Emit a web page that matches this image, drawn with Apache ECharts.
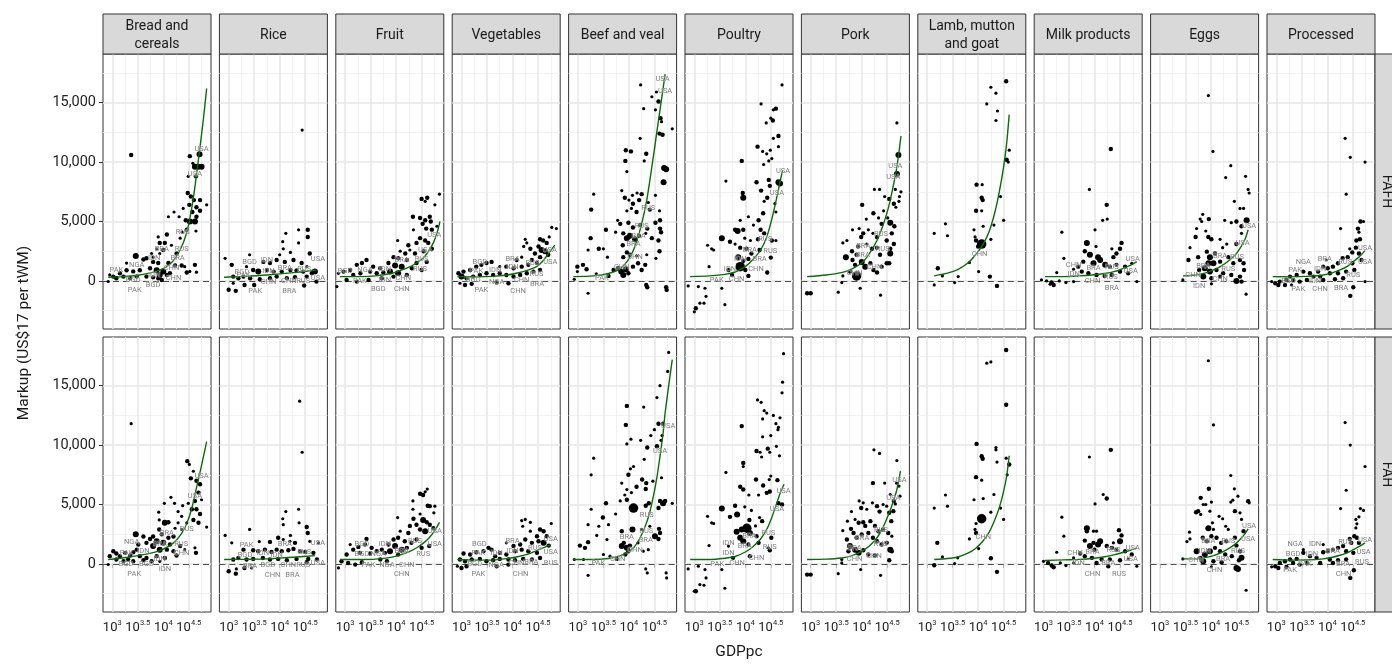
<!DOCTYPE html>
<html><head><meta charset="utf-8">
<script src="https://cdn.jsdelivr.net/npm/echarts@6.0.0/dist/echarts.min.js"></script>
<style>html,body{margin:0;padding:0;background:#fff}#c{width:1392px;height:664px}</style>
</head><body><div id="c"></div>
<script>
// ---- categories / ticks ----
const categories = ['Bread and\ncereals','Rice','Fruit','Vegetables','Beef and veal','Poultry','Pork','Lamb, mutton\nand goat','Milk products','Eggs','Processed'];
const rowNames = ['FAFH','FAH'];
const xTicks = [3, 3.5, 4, 4.5];
const yTicks = [0, 5000, 10000, 15000];
const xMajorGrid = [3, 3.5, 4, 4.5];
const xMinorGrid = [3.25, 3.75, 4.25, 4.75];
const yMajorGrid = [0, 5000, 10000, 15000];
const yMinorGrid = [-2500, 2500, 7500, 12500, 17500];

// ---- data: [log10 GDPpc, markup (thousand US$), size class] ----
const fafhBread = [[3.37,10.6,2],[4.71,10.67,3],[4.52,10.5,2],[4.58,9.9,1],[4.62,9.6,3],[4.68,9.6,3],[4.75,9.6,3],[4.49,8.8,1],[4.64,8.8,2],[4.48,7.4,2],[4.54,7.1,2],[4.60,6.8,2],[4.72,6.8,2],[4.51,6.4,2],[4.65,6.2,2],[4.85,6.4,1],[4.57,5.8,2],[4.72,5.9,2],[4.39,6.1,1],[4.21,5.8,1],[4.10,5.4,1],[4.31,5.4,1],[4.44,5.1,2],[4.52,5.0,3],[4.62,5.0,3],[4.65,5.4,2],[4.46,4.3,2],[4.64,4.2,1],[4.37,4.1,1],[3.90,3.7,1],[4.07,3.9,2],[4.03,3.2,2],[3.93,3.2,2],[4.16,3.0,1],[3.87,2.7,1],[4.0,2.6,2],[4.33,3.6,1],[4.26,2.3,2],[3.93,2.3,1],[3.80,2.0,1],[3.67,1.9,2],[3.46,2.1,3],[3.61,1.8,2],[3.80,1.6,2],[3.90,1.5,2],[4.10,1.5,2],[4.23,1.3,2],[4.36,1.3,2],[4.42,1.2,1],[4.62,1.35,2],[4.52,0.8,1],[4.46,0.7,2],[4.65,0.73,1],[3.74,1.06,2],[3.87,0.9,3],[4.0,0.8,3],[3.93,0.5,3],[4.07,0.5,2],[4.13,0.64,2],[3.54,0.9,2],[3.41,0.8,2],[3.28,0.9,2],[3.15,0.64,2],[3.02,0.36,2],[2.95,0.5,1],[2.92,-0.05,1],[3.08,0.22,2],[3.22,0.36,2],[3.35,0.22,2],[3.48,0.36,2],[3.67,0.36,2],[3.80,0.3,2],[3.90,0.22,2],[3.97,0.08,2],[3.28,1.5,1],[3.77,2.3,1]];
const fafhRice = [[4.44,12.7,1],[4.12,4.0,1],[4.37,4.3,1],[4.55,4.3,2],[4.55,3.7,2],[4.06,3.3,1],[4.07,2.7,1],[4.37,3.2,1],[4.59,2.3,2],[4.21,2.4,1],[3.41,2.2,1],[2.93,1.9,1],[3.06,1.35,2],[4.0,2.2,1],[3.68,1.6,2],[3.81,1.5,2],[3.94,1.76,2],[4.10,1.6,2],[4.27,1.76,2],[4.43,1.5,2],[4.53,1.2,1],[3.35,1.2,1],[3.48,0.92,2],[3.58,0.78,3],[3.75,0.92,2],[3.88,0.78,2],[4.04,0.78,2],[4.21,0.92,2],[4.33,0.87,2],[4.46,0.78,2],[4.63,0.64,2],[4.69,0.78,3],[3.09,0.36,2],[3.19,0.22,2],[3.29,0.36,2],[3.42,0.22,2],[3.61,0.14,2],[3.81,0.22,2],[3.94,0.36,2],[4.14,0.22,2],[4.30,0.31,2],[4.53,0.36,2],[3.0,-0.75,2],[3.14,-0.84,2],[3.31,-0.34,2],[3.5,-0.34,2],[3.09,-0.2,1],[4.48,-0.39,2],[4.72,-0.06,2]];
const fafhFruit = [[4.85,7.3,1],[4.5,6.9,2],[4.61,7.0,2],[4.57,6.7,1],[4.76,6.4,1],[4.33,5.4,2],[4.47,5.3,2],[4.57,5.1,2],[4.66,5.4,2],[4.68,5.0,2],[4.52,4.8,2],[4.59,4.4,2],[4.7,4.3,2],[4.8,4.6,1],[4.34,4.3,1],[4.03,3.4,1],[4.47,3.6,2],[4.57,3.4,2],[4.63,3.2,2],[4.4,3.2,2],[4.24,3.0,2],[4.27,2.6,1],[4.08,2.5,1],[4.18,2.3,2],[4.37,2.3,2],[4.54,2.5,2],[4.7,2.7,2],[3.95,2.0,2],[4.04,1.9,2],[4.21,1.76,2],[4.4,1.5,2],[4.6,1.6,2],[3.85,1.5,2],[3.98,1.3,3],[4.11,1.2,3],[4.31,1.06,2],[4.5,0.92,2],[3.88,0.78,3],[4.04,0.64,3],[4.21,0.5,2],[3.95,0.36,2],[3.42,1.76,2],[3.33,1.5,2],[3.23,1.35,2],[3.55,1.2,2],[3.69,1.06,2],[3.1,0.92,2],[2.97,0.78,2],[2.87,0.64,1],[3.16,0.5,2],[3.3,0.64,2],[3.49,0.78,2],[3.62,0.64,2],[3.75,0.7,2],[3.03,0.08,2],[3.23,-0.06,2],[2.84,-0.48,1],[3.46,0.08,2],[3.72,0.22,2]];
const fafhVeg = [[4.77,4.5,1],[4.86,4.4,1],[4.54,3.5,2],[4.6,3.4,2],[4.67,3.2,2],[4.72,3.7,1],[4.25,3.5,1],[4.28,3.2,1],[4.22,2.9,1],[4.35,2.7,2],[4.51,2.9,2],[4.57,2.6,3],[4.64,2.5,3],[4.7,2.2,2],[4.54,2.0,2],[4.44,2.3,2],[4.38,1.76,2],[4.18,2.0,1],[4.08,1.76,2],[4.48,1.5,2],[4.31,1.35,2],[4.18,1.2,2],[4.02,1.06,2],[3.88,1.2,2],[3.75,1.2,1],[3.59,1.6,2],[3.49,1.5,2],[3.39,1.35,2],[3.29,1.2,2],[3.17,0.92,2],[3.04,0.78,2],[2.94,0.64,2],[3.0,0.36,3],[3.1,0.22,2],[3.23,0.36,2],[3.36,0.5,2],[3.49,0.64,2],[3.62,0.5,2],[3.75,0.64,2],[3.88,0.5,2],[4.02,0.36,2],[4.15,0.5,2],[4.28,0.64,2],[4.41,0.78,2],[4.54,0.92,2],[2.97,-0.2,1],[3.07,-0.34,2],[3.2,-0.25,2],[3.69,-0.14,2],[3.92,-0.2,2]];
const fafhBeef = [[4.23,16.5,1],[4.54,15.9,1],[4.58,15.1,2],[4.45,15.5,1],[4.29,14.5,1],[4.52,14.4,1],[4.85,12.8,1],[4.62,13.7,2],[4.64,13.4,1],[4.6,12.4,2],[4.66,12.3,2],[4.22,12.0,1],[3.94,11.0,2],[4.04,10.9,2],[4.34,10.7,2],[4.3,10.1,1],[3.93,10.1,2],[3.96,9.2,1],[4.69,9.5,3],[4.73,9.4,3],[4.68,8.3,3],[3.31,7.3,1],[3.86,7.6,1],[3.92,7.0,2],[4.07,7.2,1],[4.16,7.4,1],[4.25,7.3,2],[4.0,6.8,1],[4.08,6.5,2],[4.2,6.8,2],[4.38,6.6,1],[4.52,7.2,1],[3.26,6.0,2],[3.96,5.9,1],[4.05,6.1,1],[4.15,5.8,2],[4.41,6.0,2],[4.6,5.9,1],[3.78,5.1,1],[3.83,4.8,2],[3.99,4.9,2],[4.08,4.5,2],[4.22,4.7,2],[4.36,4.4,2],[4.52,4.9,2],[4.61,5.1,2],[4.61,4.4,2],[3.55,4.3,2],[3.74,4.1,1],[3.89,4.0,2],[3.96,3.6,3],[4.02,3.8,3],[4.12,3.5,3],[4.2,3.8,2],[4.33,4.0,1],[4.45,3.6,2],[4.58,3.4,2],[4.63,4.1,2],[3.25,3.6,2],[3.41,2.7,2],[3.2,2.6,1],[3.5,2.7,1],[3.58,2.0,1],[3.88,3.0,2],[3.96,2.4,2],[3.89,2.0,2],[4.02,2.2,2],[4.15,2.1,1],[4.35,2.2,1],[4.6,2.5,2],[4.53,1.9,1],[2.99,1.2,2],[3.1,1.35,2],[3.17,0.98,2],[2.99,0.78,1],[2.93,0.14,1],[3.36,0.6,1],[3.6,0.42,2],[3.7,0.92,2],[3.79,1.06,2],[3.85,0.78,3],[3.94,0.98,3],[3.89,0.5,3],[3.99,0.64,2],[4.08,1.2,2],[4.18,1.48,2],[4.25,0.92,2],[4.32,1.35,2],[4.34,-0.34,2],[4.36,-0.53,2],[4.73,-0.53,2],[4.74,-0.76,2],[3.2,-1.04,1]];
const fafhPoultry = [[4.72,16.5,1],[4.31,14.9,1],[4.6,14.5,2],[4.55,14.4,1],[4.41,13.3,1],[4.5,13.7,1],[4.54,13.5,2],[4.65,12.2,2],[4.55,12.0,1],[4.24,11.3,2],[4.34,10.9,1],[4.49,11.0,1],[4.42,10.7,1],[4.52,10.3,1],[4.46,10.1,1],[4.36,9.8,1],[4.65,11.3,1],[3.93,10.1,2],[3.62,8.4,1],[4.46,8.5,2],[4.22,8.3,2],[4.65,8.3,3],[4.68,8.2,3],[3.95,7.4,2],[3.96,7.0,3],[4.31,7.6,2],[4.48,8.0,2],[4.43,7.0,2],[4.37,6.7,1],[4.58,6.5,1],[4.35,5.7,2],[4.6,5.8,1],[3.9,5.1,1],[4.06,5.4,1],[4.26,5.1,2],[3.8,4.3,2],[3.85,4.2,3],[3.96,4.3,2],[4.16,4.7,1],[4.3,4.3,2],[4.37,4.0,2],[3.54,3.6,3],[3.7,3.3,2],[3.8,3.1,1],[3.99,3.6,1],[4.1,3.4,1],[4.25,3.5,2],[4.52,3.4,2],[4.6,3.4,1],[3.26,3.0,1],[3.38,2.6,1],[3.34,2.7,1],[3.9,2.8,2],[4.02,2.7,2],[4.12,2.3,2],[4.28,2.6,2],[3.86,2.0,3],[3.96,1.7,2],[4.06,1.85,2],[4.5,1.96,2],[3.9,1.2,4],[4.0,0.92,2],[4.06,0.42,2],[4.43,0.7,2],[3.29,1.2,1],[3.67,0.92,2],[3.74,0.5,2],[2.88,-0.42,1],[3.08,-0.48,1],[3.21,-0.62,1],[3.23,-1.3,1],[3.11,-1.88,1],[3.03,-2.3,2],[3.0,-2.6,1],[3.54,-0.62,1],[3.6,-2.0,1],[3.19,-1.88,1]];
const fafhPork = [[4.69,13.3,1],[4.72,10.6,3],[4.69,9.0,3],[4.25,7.7,1],[4.35,7.7,1],[4.45,7.1,1],[4.54,6.9,2],[4.66,7.7,1],[4.77,7.5,1],[4.74,7.1,1],[4.73,6.7,1],[4.63,6.5,2],[4.67,6.2,1],[4.01,6.4,2],[4.23,5.7,2],[4.43,5.9,1],[4.33,5.3,1],[4.51,5.3,1],[4.09,5.2,1],[4.56,4.9,3],[4.64,4.6,2],[4.59,4.0,2],[4.39,4.8,2],[3.82,4.3,1],[3.95,4.4,1],[4.03,4.0,2],[4.13,4.3,1],[4.22,4.0,1],[4.3,3.7,2],[4.49,3.4,2],[4.63,3.1,2],[4.56,2.7,2],[3.63,3.2,1],[3.71,3.4,1],[3.81,2.5,2],[3.93,2.9,2],[3.99,3.7,2],[4.1,3.1,1],[4.2,2.7,2],[4.3,2.8,2],[4.36,2.2,2],[4.56,2.3,3],[4.49,1.48,2],[4.54,1.48,2],[3.69,2.0,3],[3.82,1.76,2],[3.9,2.2,2],[3.87,1.35,2],[4.0,1.6,3],[4.07,1.2,3],[4.17,1.48,2],[4.23,0.92,2],[4.3,0.7,2],[4.39,1.2,2],[3.77,0.78,2],[3.9,0.42,4],[3.63,0.42,1],[3.61,-0.14,1],[3.97,-0.62,1],[3.54,-0.95,1],[4.37,-1.2,1],[2.93,-1.04,2],[3.0,-1.04,2]];
const fafhLamb = [[4.55,16.8,2],[4.25,16.3,1],[4.35,15.8,1],[4.17,14.9,1],[4.38,14.3,1],[4.35,13.5,1],[4.61,11.0,1],[4.56,10.2,2],[4.59,10.0,1],[3.97,8.1,2],[4.08,8.1,1],[4.07,7.0,2],[4.09,6.8,2],[4.44,7.1,1],[3.96,5.9,2],[4.07,5.9,1],[4.5,5.1,1],[3.14,4.0,1],[3.36,4.8,1],[3.4,3.8,1],[4.1,4.6,1],[3.92,4.3,1],[4.31,4.7,1],[3.94,3.7,1],[3.96,3.4,2],[4.07,3.1,4],[4.0,2.9,2],[4.25,3.5,1],[3.83,1.54,1],[4.01,0.78,1],[3.21,1.06,2],[3.3,0.42,1],[3.61,0.36,1],[4.23,0.36,2],[3.14,-0.34,1],[3.54,-0.14,1],[4.37,-0.42,2]];
const fafhMilk = [[4.32,11.1,2],[3.9,7.7,1],[4.24,6.4,2],[4.16,5.1,1],[4.25,5.2,1],[4.01,4.3,1],[3.36,4.1,1],[3.85,3.2,3],[4.03,2.9,1],[3.4,1.9,1],[4.53,3.2,2],[4.34,2.7,1],[4.43,2.3,2],[4.5,2.7,2],[4.37,2.0,2],[3.81,2.5,2],[3.91,2.2,3],[4.07,2.0,3],[4.11,1.76,3],[3.98,1.48,3],[3.78,1.62,2],[3.68,1.2,2],[4.21,1.35,3],[4.3,1.2,2],[4.43,1.35,2],[4.6,1.2,2],[4.73,1.48,1],[4.5,0.78,2],[4.66,0.64,2],[3.26,0.7,1],[3.59,0.98,1],[3.75,0.78,2],[3.88,0.64,2],[4.04,0.5,2],[4.2,0.42,2],[4.34,0.5,2],[4.83,-0.06,1],[2.96,0.08,1],[3.06,0.0,1],[3.16,-0.14,2],[3.2,-0.34,2],[3.13,-0.28,1],[3.31,0.0,1],[3.44,-0.14,1],[3.59,-0.06,1]];
const fafhEggs = [[3.95,15.6,1],[4.04,10.9,1],[4.39,9.7,1],[4.29,8.7,1],[4.68,8.8,1],[4.73,7.7,1],[4.75,7.4,1],[4.46,6.7,1],[4.57,6.1,1],[4.64,6.1,1],[3.84,5.6,1],[3.79,5.2,1],[3.96,5.2,2],[3.82,5.0,1],[3.72,4.4,1],[3.9,4.2,1],[4.27,5.1,1],[4.4,4.9,1],[4.5,5.0,2],[4.7,5.1,3],[4.6,4.6,2],[3.7,3.7,2],[3.95,3.7,2],[4.01,3.5,2],[3.59,2.8,1],[4.18,3.5,1],[4.31,3.1,1],[4.23,2.8,1],[4.5,3.1,2],[4.6,4.0,1],[3.56,1.76,2],[3.75,2.0,2],[3.92,2.46,2],[3.98,2.0,3],[4.08,2.3,2],[3.95,1.48,3],[4.05,1.48,3],[4.18,1.62,2],[4.34,2.0,2],[4.44,1.48,2],[4.57,1.76,2],[4.64,1.48,2],[4.65,0.92,2],[3.77,0.92,2],[3.88,1.06,3],[3.98,0.78,3],[4.11,0.92,2],[4.24,0.64,2],[4.4,0.5,2],[4.57,0.36,2],[3.85,0.36,3],[4.01,0.22,2],[4.18,0.36,2],[4.5,0.0,3],[4.6,-0.06,2],[4.01,-0.25,1],[4.69,-1.12,1],[3.45,0.08,1]];
const fafhProc = [[4.35,12.0,1],[4.45,10.4,1],[4.74,10.0,1],[4.37,7.3,1],[4.26,4.4,1],[4.65,5.0,2],[4.71,5.0,1],[4.6,4.4,2],[4.62,4.1,1],[4.64,3.5,2],[4.57,3.4,2],[4.44,2.7,1],[4.56,2.8,2],[4.49,2.4,2],[4.62,2.3,2],[4.4,2.0,2],[4.3,1.9,2],[4.21,1.48,2],[4.49,1.48,2],[4.67,1.76,2],[4.11,1.2,2],[4.01,1.06,2],[3.92,1.2,2],[3.82,0.78,2],[4.05,0.64,2],[4.21,0.64,2],[4.37,0.78,2],[4.53,0.92,2],[3.98,1.76,1],[3.92,0.08,2],[4.15,0.14,2],[4.31,0.22,2],[4.51,-0.53,2],[4.45,-1.26,2],[4.74,-0.06,1],[3.53,0.78,2],[3.66,0.64,2],[3.73,0.36,2],[3.86,0.36,2],[3.4,0.5,2],[3.27,0.36,2],[3.33,0.08,2],[3.2,0.08,2],[3.07,-0.06,2],[2.98,-0.2,2],[2.91,-0.06,1],[3.04,-0.34,2],[3.17,-0.34,2],[3.46,-0.06,2],[3.6,0.08,2],[3.3,-0.34,1]];

const fahBread = [[3.37,11.8,1],[4.47,8.65,2],[4.51,8.37,1],[4.59,7.8,1],[4.54,7.2,2],[4.65,7.0,2],[4.72,6.7,2],[4.69,6.0,2],[4.75,5.4,1],[4.62,5.3,2],[4.49,5.1,1],[4.15,5.6,1],[4.02,5.1,1],[4.22,5.1,1],[4.29,4.4,1],[4.38,4.9,1],[3.91,4.35,1],[3.92,3.7,1],[4.03,3.46,3],[4.1,3.5,2],[4.36,4.0,1],[4.56,4.6,2],[4.65,4.6,2],[4.72,4.2,2],[4.59,3.7,2],[4.69,3.46,2],[4.85,3.1,1],[4.46,3.46,1],[3.92,2.9,2],[4.23,3.0,1],[4.29,3.46,1],[4.36,2.9,1],[3.8,2.3,2],[3.97,2.5,2],[4.1,2.2,2],[4.2,2.3,2],[3.87,1.9,3],[4.0,1.77,3],[4.13,1.63,2],[4.33,1.5,2],[4.42,1.2,1],[4.64,0.93,2],[4.62,1.35,1],[3.46,2.5,3],[3.61,2.3,2],[3.74,2.1,2],[3.67,1.77,2],[3.51,1.63,2],[3.8,1.5,3],[3.93,1.2,3],[4.07,1.2,2],[4.2,1.07,2],[3.87,0.65,2],[4.03,0.5,2],[4.26,0.7,2],[3.93,0.22,1],[3.02,1.07,2],[3.08,0.87,2],[2.95,0.65,2],[3.15,0.65,2],[3.25,0.93,2],[3.35,0.7,2],[3.41,0.98,2],[3.54,0.65,2],[3.67,0.5,2],[3.08,0.37,2],[3.22,0.22,2],[3.31,0.37,2],[3.41,0.22,2],[3.61,0.31,2],[3.77,0.22,2],[2.92,-0.05,1],[3.48,1.2,2]];
const fahRice = [[4.39,13.7,1],[4.44,9.4,1],[4.37,4.6,1],[4.12,4.4,1],[4.38,3.46,1],[4.06,3.8,1],[4.07,3.3,1],[3.41,2.9,1],[2.93,2.4,1],[4.53,3.1,2],[4.55,2.6,2],[4.21,2.4,1],[3.06,1.77,1],[3.6,1.88,1],[3.81,1.85,2],[3.97,2.2,2],[4.07,2.05,1],[4.2,1.9,1],[4.3,1.77,2],[4.59,1.9,1],[4.76,1.77,1],[3.29,1.2,2],[3.48,1.15,2],[3.58,1.07,2],[3.71,1.2,2],[3.84,1.0,2],[3.94,1.2,2],[4.04,1.07,2],[4.17,1.15,2],[4.27,1.26,2],[4.4,1.07,2],[4.5,1.0,2],[4.66,0.93,2],[3.09,0.37,2],[3.19,0.5,2],[3.35,0.37,2],[3.48,0.42,2],[3.67,0.5,2],[3.81,0.37,2],[3.97,0.42,2],[4.14,0.31,2],[4.33,0.42,2],[4.56,0.42,2],[4.73,0.37,2],[3.0,-0.62,2],[3.14,-0.82,2],[3.15,-0.42,1],[3.31,-0.34,2],[3.45,-0.34,1],[4.53,0.14,2]];
const fahFruit = [[4.61,6.3,1],[4.47,5.9,2],[4.53,5.8,2],[4.57,6.07,1],[4.33,5.3,1],[4.62,4.9,2],[4.66,4.86,2],[4.76,4.86,1],[4.33,4.6,1],[4.47,4.2,1],[4.74,4.3,1],[4.03,3.9,1],[4.34,3.8,2],[4.53,3.7,3],[4.6,3.5,2],[4.66,3.3,2],[4.73,3.0,2],[4.27,3.2,2],[4.4,3.3,2],[4.47,2.9,2],[4.57,2.75,3],[4.24,2.6,2],[4.08,2.75,1],[3.95,2.05,2],[4.04,2.2,2],[4.17,1.9,2],[4.3,1.77,2],[4.4,2.05,2],[4.65,1.5,2],[4.5,1.35,2],[3.85,1.63,2],[3.98,1.5,3],[4.11,1.2,3],[4.21,1.35,2],[3.88,1.07,3],[4.04,0.79,2],[3.78,0.93,2],[3.42,2.1,2],[3.39,1.63,2],[3.26,1.43,2],[3.1,1.63,1],[3.16,1.2,2],[3.52,1.35,2],[3.62,1.07,2],[3.72,1.2,2],[3.03,0.79,2],[3.29,0.93,2],[3.49,0.87,2],[2.93,0.22,2],[3.06,0.08,2],[3.2,-0.06,2],[3.33,0.14,2],[2.87,-0.34,1],[3.69,0.37,2],[3.82,0.22,2]];
const fahVeg = [[4.18,3.65,1],[4.25,3.74,1],[4.2,3.17,1],[4.35,3.5,1],[4.76,3.4,1],[4.54,2.9,2],[4.61,2.75,2],[4.67,2.33,2],[4.48,2.33,2],[4.35,2.75,1],[4.25,2.05,2],[4.38,1.77,2],[4.51,1.9,2],[4.61,1.77,3],[4.71,1.54,2],[4.15,1.63,2],[4.02,1.5,2],[3.88,1.77,1],[4.05,1.07,2],[4.18,1.2,2],[4.31,1.07,2],[4.48,0.93,2],[3.53,1.35,2],[3.59,1.2,2],[3.43,1.07,2],[3.29,0.98,2],[3.17,0.79,2],[3.04,0.87,2],[3.75,0.93,2],[3.66,0.65,2],[3.88,0.79,2],[2.97,0.37,2],[3.07,0.22,2],[3.2,0.37,2],[3.36,0.42,2],[3.49,0.22,2],[3.62,0.31,2],[3.75,0.42,2],[3.92,0.37,2],[4.05,0.31,2],[4.21,0.42,2],[4.38,0.37,2],[4.54,0.5,2],[2.92,-0.2,1],[3.0,-0.34,2],[3.1,-0.2,2],[3.69,-0.2,2],[3.92,-0.06,2]];
const fahBeef = [[4.78,17.8,1],[4.76,16.2,1],[4.61,15.0,1],[4.55,14.0,1],[3.96,13.3,2],[4.29,13.2,1],[4.23,10.4,1],[4.36,9.8,2],[4.43,10.8,1],[4.55,9.9,2],[4.63,10.4,1],[4.65,10.8,1],[4.58,11.8,2],[4.5,11.3,1],[4.67,11.8,2],[3.94,11.7,2],[4.04,10.5,1],[3.96,10.1,1],[3.31,8.9,1],[3.26,7.5,1],[4.3,8.8,1],[4.09,8.2,1],[4.03,8.0,1],[3.99,7.5,2],[4.26,7.1,2],[4.34,6.8,2],[3.86,6.8,1],[4.15,6.5,2],[3.96,6.26,1],[4.05,6.0,1],[4.33,6.3,2],[4.64,7.25,1],[4.47,6.96,1],[3.92,5.8,1],[3.83,5.3,1],[3.96,5.4,2],[4.09,4.7,4],[4.33,4.9,2],[4.39,5.1,2],[4.61,5.3,2],[4.67,5.1,3],[4.71,5.3,2],[4.58,4.7,2],[4.85,5.1,1],[3.26,4.6,1],[3.55,5.1,2],[3.49,3.9,2],[3.74,4.2,1],[3.6,3.3,1],[3.2,3.3,1],[3.41,3.17,1],[3.86,2.75,2],[4.07,2.9,3],[4.25,2.9,1],[4.41,3.17,1],[4.59,2.95,2],[4.61,2.6,2],[4.51,2.33,3],[4.58,2.1,2],[3.37,2.4,1],[3.57,2.05,1],[3.2,1.83,2],[3.04,1.54,2],[3.14,1.35,2],[3.86,1.5,3],[3.96,1.35,3],[3.9,1.77,2],[4.02,1.54,2],[3.99,1.07,2],[4.18,1.77,1],[4.38,1.2,1],[4.28,1.07,1],[3.5,0.79,1],[3.63,0.65,1],[3.76,0.42,2],[3.93,0.79,2],[2.93,0.37,1],[3.11,0.37,1],[4.33,-0.42,1],[4.36,-0.76,1],[4.73,-0.76,1],[4.74,-1.18,1],[3.2,-0.96,1]];
const fahPoultry = [[4.75,17.7,1],[4.73,15.3,1],[4.72,14.4,1],[4.24,13.8,1],[4.31,13.6,1],[4.37,12.9,1],[4.42,12.7,1],[4.55,12.5,1],[4.34,12.2,1],[4.6,11.8,1],[4.65,11.5,1],[4.64,11.3,1],[4.68,12.3,1],[3.93,11.6,2],[4.34,10.7,1],[4.5,10.8,1],[3.96,8.5,2],[3.96,8.2,1],[3.62,7.7,1],[4.22,9.5,2],[4.29,9.4,1],[4.44,9.7,2],[4.48,9.4,1],[4.61,9.9,1],[4.32,9.0,1],[4.67,9.1,1],[4.5,7.4,1],[4.47,7.1,1],[4.63,7.05,2],[4.21,7.1,2],[4.35,6.6,2],[3.9,6.5,2],[3.96,6.26,2],[4.07,5.8,1],[4.42,5.98,2],[4.48,6.1,2],[4.26,5.8,1],[4.65,5.1,2],[4.72,5.0,2],[3.54,4.66,3],[3.8,4.9,2],[3.99,4.8,1],[3.84,4.16,3],[3.7,3.96,2],[4.12,4.5,1],[4.28,3.9,1],[4.33,3.6,2],[4.08,3.7,2],[3.26,4.0,1],[3.38,3.4,1],[3.34,3.46,1],[4.2,3.2,1],[3.83,2.7,3],[3.93,2.9,3],[4.03,3.0,4],[4.09,2.6,3],[3.9,2.2,3],[3.96,1.9,3],[4.06,1.63,2],[4.22,2.33,2],[4.26,1.77,2],[4.51,2.2,2],[4.48,1.15,2],[4.45,1.35,1],[3.67,1.5,1],[4.09,0.65,2],[3.76,0.51,2],[3.29,1.54,1],[2.88,-0.42,1],[3.08,-0.2,1],[3.21,-0.48,1],[3.23,-1.18,1],[3.11,-1.74,1],[3.03,-2.3,2],[3.0,-2.3,1],[3.54,-0.48,1],[3.6,-2.05,1],[3.19,-1.8,1]];
const fahPork = [[4.24,9.6,1],[4.35,9.3,1],[4.69,8.7,1],[4.22,6.8,2],[4.45,6.8,1],[4.68,6.8,1],[4.73,6.55,1],[4.75,5.7,1],[4.56,5.84,1],[4.63,5.3,2],[4.66,5.05,1],[3.8,4.4,1],[3.95,5.3,1],[4.03,5.14,1],[3.99,4.7,2],[4.1,4.6,1],[4.21,5.14,1],[4.3,4.86,2],[4.35,4.4,2],[4.42,5.0,1],[4.49,4.86,1],[4.54,4.3,2],[4.62,4.44,2],[4.58,3.6,2],[3.63,2.8,1],[3.72,3.6,1],[3.79,2.95,2],[3.87,3.74,1],[3.94,3.46,2],[4.03,3.5,2],[4.07,3.2,2],[4.17,3.6,2],[4.26,3.2,2],[4.33,2.75,2],[4.42,2.9,2],[4.52,2.6,2],[4.59,2.33,1],[4.49,1.77,2],[3.71,2.05,2],[3.84,2.6,2],[3.9,2.2,2],[4.0,2.47,2],[4.13,2.6,2],[4.22,2.2,2],[4.3,1.9,2],[4.39,1.63,2],[4.56,1.2,3],[4.59,1.07,2],[3.77,1.5,3],[3.87,1.2,3],[3.94,0.93,3],[4.03,1.15,2],[4.13,0.79,2],[4.26,0.7,2],[4.54,0.31,2],[3.61,0.37,1],[3.74,1.07,2],[2.93,-0.9,2],[3.0,-0.9,2],[3.54,-0.82,1],[3.61,0.08,1],[3.98,-0.48,1],[4.37,-0.96,1]];
const fahLamb = [[4.55,18.0,2],[4.17,16.9,1],[4.25,17.0,1],[4.55,13.4,2],[3.97,10.1,2],[4.07,9.07,2],[4.09,8.85,2],[4.35,9.8,1],[4.35,9.6,1],[4.37,8.57,1],[4.55,8.9,1],[4.61,8.37,2],[4.57,7.5,1],[3.96,7.3,2],[4.07,7.05,1],[4.1,5.5,1],[3.92,5.4,1],[4.31,5.84,1],[4.44,4.7,1],[3.36,5.8,1],[3.4,4.86,1],[3.14,4.7,1],[4.07,3.8,4],[4.25,4.35,1],[4.5,3.74,1],[3.96,3.4,1],[3.94,2.9,1],[3.96,2.6,2],[3.83,2.1,1],[3.2,1.77,2],[4.01,1.29,1],[3.3,0.59,1],[3.6,0.51,1],[4.25,0.48,2],[3.14,-0.11,2],[3.54,0.03,1],[4.37,-0.67,2]];
const fahMilk = [[4.32,9.6,2],[3.9,9.0,1],[4.17,5.84,1],[4.24,5.5,2],[4.01,5.05,1],[3.36,3.93,1],[3.4,2.33,1],[3.85,3.0,3],[3.85,2.75,2],[3.98,2.75,1],[4.04,2.75,1],[4.11,1.9,3],[4.07,1.63,3],[3.98,1.77,2],[3.81,1.96,2],[3.91,1.5,3],[4.0,1.2,2],[4.48,2.84,2],[4.53,2.4,2],[4.5,1.9,3],[4.37,1.77,1],[4.24,1.5,2],[4.34,1.35,2],[4.43,1.2,2],[4.6,1.07,2],[4.73,0.79,2],[4.66,0.42,1],[3.26,0.98,1],[3.59,0.51,1],[3.72,0.87,2],[3.81,0.65,2],[3.95,0.51,2],[4.14,0.37,2],[4.3,0.37,2],[4.5,0.31,2],[4.83,-0.2,1],[3.0,0.22,1],[3.09,0.08,2],[3.16,-0.14,2],[3.2,-0.28,2],[3.33,0.08,1],[3.44,-0.14,1],[3.59,0.08,1],[4.04,0.08,2],[4.27,-0.2,2]];
const fahEggs = [[3.95,17.1,1],[4.05,11.7,1],[4.39,7.44,1],[4.46,6.32,1],[3.96,6.32,2],[3.8,5.56,2],[3.85,5.0,1],[3.9,5.0,1],[3.71,4.35,2],[3.75,4.44,2],[3.8,4.16,1],[3.98,4.44,1],[4.01,5.2,1],[4.53,5.7,1],[4.73,5.28,2],[4.75,5.14,1],[4.43,5.36,1],[4.39,5.2,1],[3.58,2.67,1],[3.59,2.1,1],[4.03,3.46,1],[4.16,4.0,1],[4.23,3.8,1],[4.29,3.17,1],[4.34,2.9,1],[4.47,4.44,2],[4.57,4.3,1],[4.6,3.74,1],[4.64,2.75,2],[3.95,3.0,3],[4.05,2.9,1],[3.53,1.88,1],[3.72,1.07,3],[3.84,2.2,2],[3.92,1.9,2],[4.01,2.33,2],[4.11,2.2,2],[4.2,1.77,2],[4.3,1.9,2],[4.47,2.2,2],[4.5,1.54,2],[4.57,1.07,2],[4.6,0.51,3],[4.55,0.31,2],[3.79,0.51,2],[3.88,0.79,3],[3.98,1.07,3],[4.08,1.35,2],[4.18,1.07,2],[4.28,0.79,2],[4.41,0.65,2],[3.85,0.22,3],[4.05,0.22,2],[4.21,0.14,2],[4.01,-0.25,1],[4.5,-0.34,3],[4.53,-0.42,3],[4.69,-2.22,1],[3.45,0.42,1]];
const fahProc = [[4.35,11.9,1],[4.45,10.0,1],[4.74,8.2,1],[4.37,6.2,1],[4.26,4.66,1],[4.65,4.66,1],[4.71,4.5,1],[4.62,3.96,1],[4.56,3.74,1],[4.58,3.37,1],[4.56,3.03,1],[4.53,2.33,2],[4.58,2.2,2],[4.44,2.1,2],[4.47,1.77,2],[4.31,1.5,2],[4.21,1.35,2],[4.11,1.2,2],[4.01,1.07,2],[3.92,0.98,2],[4.62,1.77,2],[4.37,1.07,2],[4.51,0.93,2],[3.92,1.63,1],[3.53,1.2,1],[3.53,0.93,2],[3.66,0.65,2],[3.79,0.51,2],[4.05,0.37,2],[4.21,0.31,2],[4.37,0.37,2],[3.4,0.42,2],[3.27,0.37,2],[3.17,0.22,2],[3.07,0.08,2],[2.98,-0.2,2],[2.91,-0.25,1],[3.04,-0.34,2],[3.2,-0.25,2],[3.33,0.08,2],[3.46,-0.06,2],[3.6,0.08,2],[3.86,0.08,2],[4.11,0.08,2],[4.52,-0.53,2],[4.45,-1.18,2]];

// ---- fitted curves: [log10 GDPpc, markup (thousand US$)] ----
const cFafhBread = [[2.92,0.31],[3.2,0.36],[3.5,0.48],[3.75,0.68],[3.95,0.95],[4.1,1.3],[4.25,2.0],[4.4,3.3],[4.5,4.8],[4.6,7.3],[4.7,10.6],[4.78,13.4],[4.85,16.2]];
const cFafhRice = [[2.91,0.31],[3.3,0.38],[3.75,0.5],[4.27,0.7],[4.72,0.92]];
const cFafhFruit = [[2.9,0.36],[3.3,0.36],[3.6,0.42],[3.9,0.62],[4.1,0.9],[4.3,1.25],[4.45,1.65],[4.55,2.0],[4.65,2.6],[4.73,3.2],[4.8,4.0],[4.86,5.0]];
const cFafhVeg = [[2.92,0.36],[3.3,0.34],[3.6,0.38],[3.9,0.5],[4.1,0.66],[4.3,0.9],[4.47,1.2],[4.6,1.7],[4.72,2.4],[4.83,3.0]];
const cFafhBeef = [[2.91,0.36],[3.3,0.42],[3.6,0.62],[3.8,0.95],[3.96,1.6],[4.07,2.4],[4.15,3.3],[4.25,4.8],[4.35,6.8],[4.45,9.6],[4.55,12.6],[4.63,15.0],[4.71,17.4]];
const cFafhPoultry = [[2.92,0.36],[3.3,0.42],[3.6,0.55],[3.8,0.75],[4.0,1.2],[4.15,1.8],[4.3,2.6],[4.42,3.7],[4.52,5.2],[4.6,6.7],[4.67,8.1],[4.73,9.3]];
const cFafhPork = [[2.93,0.36],[3.3,0.5],[3.6,0.7],[3.8,1.0],[4.0,1.5],[4.15,2.3],[4.3,3.4],[4.42,4.7],[4.52,6.1],[4.6,7.6],[4.69,9.6],[4.77,12.2]];
const cFafhLamb = [[3.14,0.42],[3.4,0.65],[3.6,0.95],[3.8,1.5],[3.95,2.2],[4.1,3.1],[4.22,4.2],[4.33,5.8],[4.42,7.6],[4.5,9.6],[4.56,11.6],[4.61,14.0]];
const cFafhMilk = [[3.03,0.36],[3.4,0.36],[3.7,0.42],[3.95,0.5],[4.2,0.62],[4.4,0.8],[4.57,1.06],[4.7,1.3],[4.83,1.62]];
const cFafhEggs = [[3.45,0.42],[3.7,0.5],[3.9,0.68],[4.05,0.92],[4.2,1.25],[4.37,1.76],[4.5,2.3],[4.6,2.95],[4.67,3.5],[4.73,4.3]];
const cFafhProc = [[2.93,0.36],[3.3,0.34],[3.6,0.38],[3.92,0.5],[4.1,0.68],[4.25,0.92],[4.4,1.25],[4.51,1.62],[4.62,2.0],[4.74,2.55]];
const cFahBread = [[2.92,0.37],[3.2,0.5],[3.5,0.7],[3.8,0.95],[4.0,1.25],[4.2,1.77],[4.35,2.5],[4.46,3.4],[4.56,4.7],[4.65,6.4],[4.75,8.3],[4.85,10.3]];
const cFahRice = [[2.91,0.37],[3.3,0.39],[3.75,0.42],[4.27,0.56],[4.69,0.7]];
const cFahFruit = [[2.9,0.37],[3.3,0.37],[3.6,0.4],[3.9,0.55],[4.1,0.78],[4.28,1.07],[4.42,1.4],[4.54,1.77],[4.65,2.2],[4.75,2.75],[4.85,3.5]];
const cFahVeg = [[2.92,0.37],[3.3,0.32],[3.6,0.32],[3.9,0.45],[4.1,0.6],[4.3,0.82],[4.47,1.12],[4.6,1.35],[4.75,1.63]];
const cFahBeef = [[2.91,0.37],[3.3,0.37],[3.6,0.45],[3.8,0.65],[3.96,0.93],[4.1,1.4],[4.22,2.2],[4.32,3.17],[4.4,4.2],[4.48,5.7],[4.55,7.3],[4.61,9.07],[4.67,11.0],[4.71,12.7],[4.78,15.0],[4.85,17.2]];
const cFahPoultry = [[2.92,0.37],[3.3,0.37],[3.6,0.48],[3.8,0.62],[4.0,1.0],[4.15,1.45],[4.3,2.1],[4.42,2.9],[4.51,3.8],[4.6,4.9],[4.68,5.9],[4.76,6.7]];
const cFahPork = [[2.93,0.37],[3.3,0.4],[3.6,0.5],[3.8,0.68],[4.0,1.05],[4.15,1.5],[4.3,2.2],[4.42,3.1],[4.52,4.1],[4.6,5.0],[4.69,6.26],[4.76,7.8]];
const cFahLamb = [[3.14,0.37],[3.4,0.45],[3.6,0.58],[3.8,0.9],[3.95,1.3],[4.1,1.95],[4.22,2.7],[4.33,3.74],[4.42,4.8],[4.5,6.1],[4.56,7.4],[4.61,9.1]];
const cFahMilk = [[3.03,0.28],[3.4,0.34],[3.7,0.38],[3.95,0.45],[4.2,0.6],[4.4,0.78],[4.57,0.98],[4.7,1.15],[4.83,1.35]];
const cFahEggs = [[3.45,0.42],[3.7,0.42],[3.9,0.55],[4.05,0.7],[4.2,0.95],[4.37,1.35],[4.5,1.75],[4.6,2.2],[4.67,2.55],[4.73,2.95]];
const cFahProc = [[2.93,0.37],[3.3,0.32],[3.6,0.33],[3.92,0.42],[4.1,0.56],[4.25,0.73],[4.4,0.95],[4.51,1.2],[4.62,1.45],[4.74,1.77]];

// ---- country labels: [log10 GDPpc, markup (thousand US$), code] ----
const lFafhBread = [[4.75,11.1,'USA'],[4.62,9.0,'USA'],[4.38,4.1,'RUS'],[3.97,2.65,'BRA'],[4.36,2.7,'RUS'],[4.28,1.9,'BRA'],[3.82,1.9,'IDN'],[3.48,1.35,'NGA'],[3.08,0.87,'PAK'],[4.16,1.06,'CHN'],[3.82,0.5,'IDN'],[4.2,0.22,'CHN'],[3.41,0.08,'BGD'],[3.80,-0.34,'BGD'],[3.44,-0.75,'PAK']];
const lFafhRice = [[3.41,1.57,'BGD'],[3.75,1.76,'IDN'],[3.26,0.7,'BGD'],[3.78,0.78,'IDN'],[3.29,0.5,'PAK'],[4.1,1.06,'BRA'],[4.48,1.0,'RUS'],[4.75,1.82,'USA'],[4.75,0.22,'USA'],[3.78,-0.14,'CHN'],[4.18,0.0,'CHN'],[4.46,0.0,'RUS'],[3.52,-0.9,'PAK'],[4.19,-0.9,'BRA']];
const lFafhFruit = [[3.0,0.78,'BGD'],[3.39,0.92,'NGA'],[3.78,1.0,'IDN'],[3.29,-0.06,'PAK'],[3.78,0.08,'IDN'],[3.65,-0.7,'BGD'],[4.11,1.76,'BRA'],[4.14,0.22,'CHN'],[4.11,-0.7,'CHN'],[4.5,1.82,'RUS'],[4.47,0.98,'RUS'],[4.57,2.6,'USA'],[4.75,3.87,'USA']];
const lFafhVeg = [[3.36,1.62,'BGD'],[3.29,0.78,'PAK'],[3.66,0.92,'IDN'],[3.23,0.08,'BGD'],[3.69,-0.14,'NGA'],[3.39,-0.75,'PAK'],[4.0,1.82,'BRA'],[4.0,1.15,'IDN'],[4.18,0.08,'CHN'],[4.11,-0.84,'CHN'],[4.39,1.48,'RUS'],[4.47,0.56,'RUS'],[4.48,-0.28,'BRA'],[4.73,2.6,'USA'],[4.74,1.54,'USA']];
const lFafhBeef = [[4.66,17.0,'USA'],[4.71,16.0,'USA'],[4.38,6.1,'RUS'],[4.25,4.6,'RUS'],[4.19,3.8,'BRA'],[4.09,3.1,'BRA'],[4.12,2.0,'CHN'],[3.86,1.2,'CHN'],[3.47,0.22,'PAK']];
const lFafhPoultry = [[4.74,9.2,'USA'],[4.62,7.4,'USA'],[4.39,3.5,'RUS'],[4.49,2.5,'RUS'],[4.09,2.6,'BRA'],[4.28,1.8,'BRA'],[3.9,1.8,'IDN'],[3.7,0.98,'IDN'],[4.21,0.98,'CHN'],[3.44,0.08,'PAK'],[3.83,0.14,'CHN']];
const lFafhPork = [[4.66,9.7,'USA'],[4.62,8.7,'USA'],[4.38,3.95,'RUS'],[4.41,2.65,'RUS'],[4.03,2.9,'BRA'],[4.02,2.2,'BRA'],[4.25,1.12,'CHN'],[3.86,0.64,'CHN']];
const lFafhLamb = [[4.03,2.27,'CHN']];
const lFafhMilk = [[3.59,1.29,'CHN'],[3.59,0.59,'IDN'],[3.98,1.04,'BRA'],[4.34,1.15,'RUS'],[4.75,1.82,'USA'],[4.71,0.78,'USA'],[3.96,-0.06,'CHN'],[4.32,0.28,'RUS'],[4.34,-0.64,'BRA']];
const lFafhEggs = [[4.75,4.6,'USA'],[4.62,3.2,'USA'],[4.51,2.0,'RUS'],[4.34,0.98,'RUS'],[4.18,2.1,'BRA'],[3.85,1.26,'BRA'],[3.65,0.5,'CHN'],[4.18,0.14,'CHN'],[3.77,-0.42,'IDN']];
const lFafhProc = [[3.53,1.62,'NGA'],[3.95,1.82,'BRA'],[3.37,0.87,'PAK'],[3.86,0.98,'IDN'],[3.24,0.0,'BGD'],[3.76,0.0,'IDN'],[3.43,-0.7,'PAK'],[3.86,-0.7,'CHN'],[4.27,-0.64,'BRA'],[4.51,0.5,'RUS'],[4.35,1.57,'RUS'],[4.74,2.75,'USA'],[4.74,1.62,'USA']];
const lFahBread = [[4.75,7.4,'USA'],[4.62,5.7,'USA'],[4.46,2.9,'RUS'],[4.07,2.55,'BRA'],[3.93,1.7,'BRA'],[4.35,1.7,'RUS'],[4.36,0.87,'CHN'],[3.38,1.83,'NGA'],[3.61,1.07,'IDN'],[3.93,0.37,'IDN'],[3.28,0.87,'PAK'],[3.27,-0.05,'BGD'],[3.67,-0.05,'BGD'],[4.03,-0.42,'IDN'],[3.43,-0.84,'PAK']];
const lFahRice = [[3.35,1.57,'PAK'],[3.32,0.73,'BGD'],[3.67,0.93,'IDN'],[4.1,1.7,'BRA'],[3.94,0.73,'IDN'],[4.48,0.98,'RUS'],[4.75,1.77,'USA'],[4.75,0.08,'USA'],[3.42,-0.2,'BRA'],[3.77,-0.11,'BGD'],[4.17,-0.11,'CHN'],[4.46,-0.11,'RUS'],[3.86,-0.98,'CHN'],[4.25,-0.98,'BRA']];
const lFahFruit = [[3.33,1.63,'BGD'],[3.78,1.7,'IDN'],[3.65,0.79,'NGA'],[3.33,0.84,'BGD'],[3.46,-0.11,'PAK'],[3.82,-0.11,'NGA'],[4.21,-0.11,'CHN'],[4.11,-0.84,'CHN'],[4.11,1.07,'BRA'],[4.37,1.9,'RUS'],[4.53,0.79,'RUS'],[4.76,2.75,'USA'],[4.76,1.63,'USA']];
const lFahVeg = [[3.35,1.68,'BGD'],[3.33,0.87,'PAK'],[3.69,0.87,'IDN'],[4.0,1.88,'BRA'],[4.0,1.07,'IDN'],[4.08,0.08,'CHN'],[3.68,-0.11,'NGA'],[3.26,-0.06,'BGD'],[3.33,-0.84,'PAK'],[4.16,-0.82,'CHN'],[4.37,0.17,'BRA'],[4.75,0.08,'RUS'],[4.44,1.29,'RUS'],[4.75,2.05,'USA'],[4.75,0.98,'USA']];
const lFahBeef = [[4.77,11.6,'USA'],[4.61,9.5,'USA'],[4.35,4.1,'RUS'],[4.34,2.75,'RUS'],[3.96,2.28,'BRA'],[4.33,2.0,'BRA'],[4.12,1.15,'CHN'],[3.78,0.37,'CHN'],[3.4,0.08,'PAK']];
const lFahPoultry = [[4.75,6.1,'USA'],[4.62,4.6,'USA'],[4.45,2.55,'RUS'],[4.48,1.43,'RUS'],[4.08,2.33,'BRA'],[3.99,1.5,'BRA'],[3.67,1.77,'IDN'],[3.67,0.93,'IDN'],[4.22,0.51,'CHN'],[3.45,-0.06,'PAK'],[3.84,0.03,'CHN']];
const lFahPork = [[4.74,7.05,'USA'],[4.62,5.5,'USA'],[4.38,2.84,'RUS'],[4.37,1.63,'RUS'],[4.01,2.2,'BRA'],[3.86,1.35,'BRA'],[4.24,0.65,'CHN'],[3.86,0.37,'CHN']];
const lFahLamb = [[4.1,2.28,'CHN']];
const lFahMilk = [[3.62,0.93,'CHN'],[3.96,1.0,'BRA'],[4.37,1.2,'RUS'],[4.75,1.35,'USA'],[4.71,0.37,'USA'],[3.69,0.08,'IDN'],[4.27,0.08,'BRA'],[3.96,-0.82,'CHN'],[4.48,-0.82,'RUS']];
const lFahEggs = [[4.75,3.17,'USA'],[4.73,2.05,'USA'],[4.34,1.9,'RUS'],[4.53,1.07,'RUS'],[3.95,1.9,'BRA'],[3.88,1.07,'IDN'],[3.71,0.28,'CHN'],[4.24,0.37,'BRA'],[4.07,-0.56,'CHN']];
const lFahProc = [[3.37,1.68,'NGA'],[3.76,1.68,'IDN'],[3.33,0.84,'BGD'],[3.7,0.79,'IDN'],[4.11,1.07,'BRA'],[4.35,1.85,'RUS'],[4.74,2.0,'USA'],[4.71,0.98,'USA'],[4.68,0.14,'RUS'],[3.27,-0.56,'PAK'],[4.32,-0.84,'CHN'],[4.31,0.0,'BRA'],[3.56,-0.06,'PAK']];

const pointsByRow = [
  [fafhBread,fafhRice,fafhFruit,fafhVeg,fafhBeef,fafhPoultry,fafhPork,fafhLamb,fafhMilk,fafhEggs,fafhProc],
  [fahBread,fahRice,fahFruit,fahVeg,fahBeef,fahPoultry,fahPork,fahLamb,fahMilk,fahEggs,fahProc]];
const curvesByRow = [
  [cFafhBread,cFafhRice,cFafhFruit,cFafhVeg,cFafhBeef,cFafhPoultry,cFafhPork,cFafhLamb,cFafhMilk,cFafhEggs,cFafhProc],
  [cFahBread,cFahRice,cFahFruit,cFahVeg,cFahBeef,cFahPoultry,cFahPork,cFahLamb,cFahMilk,cFahEggs,cFahProc]];
const labelsByRow = [
  [lFafhBread,lFafhRice,lFafhFruit,lFafhVeg,lFafhBeef,lFafhPoultry,lFafhPork,lFafhLamb,lFafhMilk,lFafhEggs,lFafhProc],
  [lFahBread,lFahRice,lFahFruit,lFahVeg,lFahBeef,lFahPoultry,lFahPork,lFahLamb,lFahMilk,lFahEggs,lFahProc]];

// ---- layout ----
const PL = 103, PW = 108, STEP = 116.4, PH = 275;
const ROW_TOP = [54, 337];
const STRIP_TOP = 14, STRIP_H = 40;
const XMIN = 2.818, XMAX = 4.935, YMIN = -4050, YMAX = 19100;
const SIZES = [0, 3.2, 4.4, 6, 9.5];
const FONT = 'Roboto, "Noto Sans", sans-serif';

const grids = [], xAxes = [], yAxes = [], series = [], graphics = [];
const supTxt = {3:'3', 3.5:'3.5', 4:'4', 4.5:'4.5'};
for (let r = 0; r < 2; r++) {
  for (let c = 0; c < 11; c++) {
    const gi = grids.length;
    const left = PL + STEP * c;
    grids.push({left: left, top: ROW_TOP[r], width: PW, height: PH, show: true,
      backgroundColor: '#fff', borderColor: '#333', borderWidth: 1, containLabel: false});
    const bottom = r === 1;
    xAxes.push({type: 'value', gridIndex: gi, min: XMIN, max: XMAX,
      axisLine: {show: false}, splitLine: {show: false},
      axisTick: {show: bottom, customValues: xTicks, length: 4, lineStyle: {color: '#333', width: 1}},
      axisLabel: {show: bottom, customValues: xTicks, margin: 7, color: '#222',
        formatter: v => '{b|10}{s|' + supTxt[v] + '}',
        rich: {b: {fontSize: 13, fontFamily: FONT, color: '#222', verticalAlign: 'bottom'},
               s: {fontSize: 7.5, fontFamily: FONT, color: '#222', padding: [0, 0, 7, 0], verticalAlign: 'bottom'}}}});
    const lefty = c === 0;
    yAxes.push({type: 'value', gridIndex: gi, min: YMIN, max: YMAX,
      axisLine: {show: false}, splitLine: {show: false},
      axisTick: {show: lefty, customValues: yTicks, length: 4, lineStyle: {color: '#333', width: 1}},
      axisLabel: {show: lefty, customValues: yTicks, margin: 7, color: '#222', fontSize: 14.5, fontFamily: FONT,
        formatter: v => v.toLocaleString('en-US')}});
    // grid lines + zero line (kept beneath the marks)
    const ml = [];
    xMinorGrid.forEach(v => ml.push({xAxis: v, lineStyle: {color: '#ededed', width: 0.8, type: 'solid'}}));
    yMinorGrid.forEach(v => ml.push({yAxis: v, lineStyle: {color: '#ededed', width: 0.8, type: 'solid'}}));
    xMajorGrid.forEach(v => ml.push({xAxis: v, lineStyle: {color: '#e6e6e6', width: 1.5, type: 'solid'}}));
    yMajorGrid.forEach(v => ml.push({yAxis: v, lineStyle: {color: '#e6e6e6', width: 1.5, type: 'solid'}}));
    series.push({type: 'scatter', xAxisIndex: gi, yAxisIndex: gi, data: [], silent: true, z: 1,
      markLine: {z: 1, silent: true, symbol: ['none', 'none'], label: {show: false}, animation: false, data: ml}});
    series.push({type: 'scatter', xAxisIndex: gi, yAxisIndex: gi, data: [], silent: true, z: 2,
      markLine: {z: 2, silent: true, symbol: ['none', 'none'], label: {show: false}, animation: false,
        data: [{yAxis: 0, lineStyle: {color: '#4d4d4d', width: 1, type: [6, 4]}}]}});
    // points
    series.push({type: 'scatter', xAxisIndex: gi, yAxisIndex: gi, z: 10, silent: true,
      data: pointsByRow[r][c].map(p => [p[0], p[1] * 1000, p[2]]),
      symbolSize: v => SIZES[v[2]], itemStyle: {color: '#000', opacity: 1}});
    // fitted curve
    series.push({type: 'line', xAxisIndex: gi, yAxisIndex: gi, z: 11, silent: true, showSymbol: false,
      smooth: 0.25,
      data: curvesByRow[r][c].map(p => [p[0], p[1] * 1000]),
      lineStyle: {color: '#0b6b0b', width: 1.4}});
    // country labels
    series.push({type: 'scatter', xAxisIndex: gi, yAxisIndex: gi, z: 12, silent: true, symbolSize: 0,
      data: labelsByRow[r][c].map(p => [p[0], p[1] * 1000, p[2]]),
      label: {show: true, position: 'inside', formatter: p => p.value[2], fontSize: 7.5, fontFamily: FONT,
        color: '#5c5c5c', textBorderColor: 'rgba(255,255,255,0.55)', textBorderWidth: 1}});
  }
}
// top strips
categories.forEach((t, c) => {
  const left = PL + STEP * c;
  graphics.push({type: 'rect', shape: {x: left, y: STRIP_TOP, width: PW, height: STRIP_H},
    style: {fill: '#d9d9d9', stroke: '#333', lineWidth: 1}, z: 10});
  graphics.push({type: 'text', x: left + PW / 2, y: STRIP_TOP + STRIP_H / 2 + 1, z: 11,
    style: {text: t, fontSize: 14, fontFamily: FONT, fill: '#1a1a1a', align: 'center', verticalAlign: 'middle', lineHeight: 18}});
});
// right strips
rowNames.forEach((t, r) => {
  const x0 = PL + STEP * 10 + PW;
  graphics.push({type: 'rect', shape: {x: x0, y: ROW_TOP[r], width: 30, height: PH},
    style: {fill: '#d9d9d9', stroke: '#333', lineWidth: 1}, z: 10});
  graphics.push({type: 'text', x: x0 + 11, y: ROW_TOP[r] + PH / 2, rotation: -Math.PI / 2, z: 11,
    style: {text: t, fontSize: 14, fontFamily: FONT, fill: '#1a1a1a', align: 'center', verticalAlign: 'middle'}});
});
// axis titles
graphics.push({type: 'text', x: (PL + PL + STEP * 10 + PW) / 2, y: 652, z: 11,
  style: {text: 'GDPpc', fontSize: 15.5, fontFamily: FONT, fill: '#1a1a1a', align: 'center', verticalAlign: 'middle'}});
graphics.push({type: 'text', x: 24, y: (ROW_TOP[0] + ROW_TOP[1] + PH) / 2, rotation: Math.PI / 2, z: 11,
  style: {text: 'Markup (US$17 per tWM)', fontSize: 15.5, fontFamily: FONT, fill: '#1a1a1a', align: 'center', verticalAlign: 'middle'}});

const chart = echarts.init(document.getElementById('c'), null, {renderer: 'canvas'});
chart.setOption({backgroundColor: '#fff', animation: false, grid: grids, xAxis: xAxes, yAxis: yAxes,
  series: series, graphic: {elements: graphics}});
</script></body></html>
